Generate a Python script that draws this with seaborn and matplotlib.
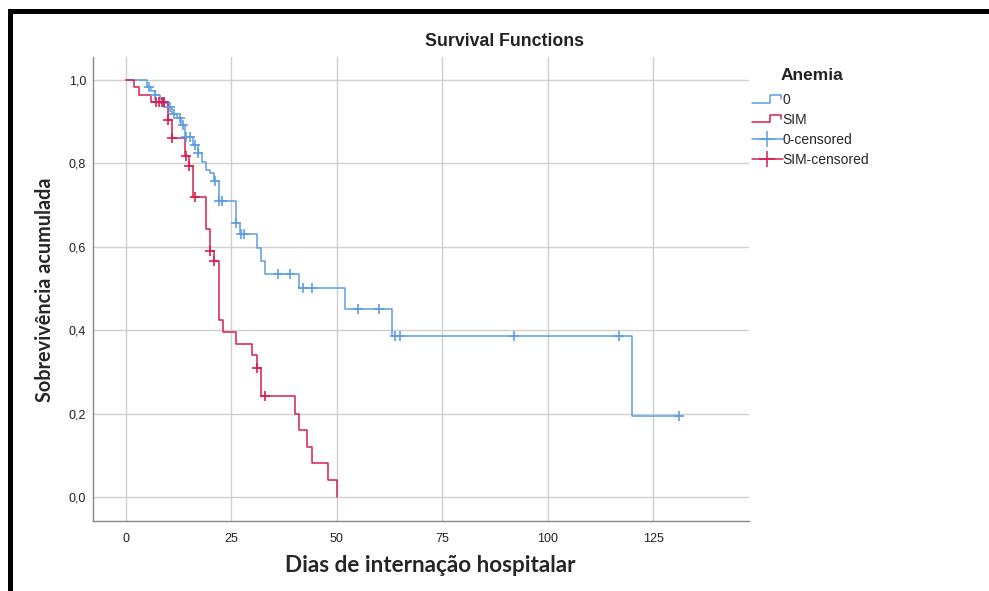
import numpy as np
import pandas as pd
import matplotlib
matplotlib.use("Agg")
import matplotlib.pyplot as plt
import seaborn as sns
from matplotlib.legend_handler import HandlerBase
from matplotlib.lines import Line2D
from matplotlib.patches import Rectangle

# ---------------- data ----------------
groups = ["0", "SIM"]

# group "0": step points (time, cumulative survival)
t_0 = [0, 5, 6, 7, 8, 9, 10, 11, 12, 13, 14, 16, 17, 18, 19, 20, 21, 22, 26, 27,
       31, 32, 33, 41, 52, 63, 120, 131]
s_0 = [1.0, 0.982, 0.973, 0.964, 0.955, 0.945, 0.936, 0.918, 0.909, 0.891, 0.864,
       0.845, 0.825, 0.804, 0.785, 0.776, 0.757, 0.710, 0.657, 0.630, 0.598, 0.566,
       0.535, 0.500, 0.450, 0.386, 0.193, 0.193]
# group "0": censored observations
ct_0 = [5.5, 7, 9, 10.5, 11.5, 12.8, 13.5, 14.2, 15.2, 16.4, 17.1, 21.2, 22.1, 22.8,
        26.2, 27.3, 28, 36, 39, 42, 44, 55, 60, 63.8, 65, 92, 117, 131]
cs_0 = [0.982, 0.964, 0.945, 0.936, 0.918, 0.909, 0.891, 0.864, 0.864, 0.845, 0.825,
        0.757, 0.710, 0.710, 0.657, 0.630, 0.630, 0.535, 0.535, 0.500, 0.500, 0.450,
        0.450, 0.386, 0.386, 0.386, 0.386, 0.193]

# group "SIM"
t_sim = [0, 2, 3, 6, 10, 11, 14, 15, 16, 19, 20, 21, 22, 23, 26, 30, 31, 32, 40,
         41, 43, 44, 48, 50]
s_sim = [1.0, 0.982, 0.965, 0.946, 0.904, 0.860, 0.817, 0.794, 0.720, 0.642, 0.590,
         0.566, 0.424, 0.395, 0.367, 0.340, 0.310, 0.242, 0.200, 0.161, 0.121, 0.081,
         0.041, 0.0]
ct_sim = [7.2, 7.9, 8.5, 9.1, 10, 11, 14.3, 15, 16.4, 20, 21, 31, 33]
cs_sim = [0.946, 0.946, 0.946, 0.946, 0.904, 0.860, 0.817, 0.794, 0.720, 0.590,
          0.566, 0.310, 0.242]

x_ticks = [0, 25, 50, 75, 100, 125]
y_ticks = [0.0, 0.2, 0.4, 0.6, 0.8, 1.0]
y_tick_labels = ["0,0", "0,2", "0,4", "0,6", "0,8", "1,0"]

colors = {"0": "#5E9DE6", "SIM": "#D81E4E"}

steps = {"0": (t_0, s_0), "SIM": (t_sim, s_sim)}
cens = {"0": (ct_0, cs_0), "SIM": (ct_sim, cs_sim)}

# ---------------- figure ----------------
sns.set_style("white")
plt.rcParams["font.family"] = ["Liberation Sans", "DejaVu Sans"]

W, H = 989, 591
fig = plt.figure(figsize=(W / 100, H / 100), dpi=100)
ax = fig.add_axes([93 / W, 1 - 521 / H, (749 - 93) / W, (521 - 57) / H])

for g in groups:
    t, s = steps[g]
    df = pd.DataFrame({"t": t, "s": s})
    sns.lineplot(data=df, x="t", y="s", drawstyle="steps-post", color=colors[g],
                 lw=1.1, estimator=None, sort=False, ax=ax, legend=False, zorder=3)
for g in groups:
    ct, cs = cens[g]
    dfc = pd.DataFrame({"t": ct, "s": cs})
    sns.scatterplot(data=dfc, x="t", y="s", marker="+", s=50, color=colors[g],
                    linewidth=1.2, ax=ax, legend=False, zorder=4)

ax.set_xlim(-7.8, 147.7)
ax.set_ylim(-0.0576, 1.055)
ax.set_xticks(x_ticks)
ax.set_xticklabels([str(v) for v in x_ticks])
ax.set_yticks(y_ticks)
ax.set_yticklabels(y_tick_labels)
ax.grid(True, color="#CFCFCF", lw=1.0)
ax.set_axisbelow(True)
for side in ["top", "right"]:
    ax.spines[side].set_visible(False)
for side in ["left", "bottom"]:
    ax.spines[side].set_color("#888888")
    ax.spines[side].set_linewidth(1.0)
ax.tick_params(axis="both", length=0, labelsize=9, colors="#222222")
ax.tick_params(axis="x", pad=9)
ax.tick_params(axis="y", pad=5)
ax.set_xlabel("")
ax.set_ylabel("")

# titles / labels
fig.text(505 / W, 1 - 42 / H, "Survival Functions", ha="center", va="center",
         fontsize=12.8, fontweight="bold", color="#222222")
fig.text(45 / W, 1 - 290 / H, "Sobrevivência acumulada", ha="center", va="center",
         rotation=90, fontsize=14.3, fontweight="bold", family=["Lato", "DejaVu Sans"])
fig.text(430 / W, 1 - 565 / H, "Dias de internação hospitalar", ha="center",
         va="center", fontsize=16.2, fontweight="bold", family=["Lato", "DejaVu Sans"])

# legend
class StepHandler(HandlerBase):
    def create_artists(self, legend, orig_handle, xdescent, ydescent, width,
                       height, fontsize, trans):
        x0, y0 = -xdescent, -ydescent
        xs = [x0, x0 + 0.6 * width, x0 + 0.6 * width, x0 + 0.95 * width, x0 + 0.95 * width]
        ys = [y0 + 0.15 * height, y0 + 0.15 * height, y0 + 0.95 * height,
              y0 + 0.95 * height, y0 + 0.5 * height]
        ln = Line2D(xs, ys, color=orig_handle.get_color(), lw=1.1, transform=trans)
        return [ln]

h_step0 = Line2D([], [], color=colors["0"])
h_stepS = Line2D([], [], color=colors["SIM"])
h_c0 = Line2D([], [], color=colors["0"], marker="+", markersize=11, markeredgewidth=1.1, lw=1.1)
h_cS = Line2D([], [], color=colors["SIM"], marker="+", markersize=11, markeredgewidth=1.1, lw=1.1)

fig.text(781 / W, 1 - 75 / H, "Anemia", ha="left", va="center", fontsize=12.5,
         fontweight="bold", color="#222222")
leg = fig.legend([h_step0, h_stepS, h_c0, h_cS],
                 ["0", "SIM", "0-censored", "SIM-censored"],
                 handler_map={h_step0: StepHandler(), h_stepS: StepHandler()},
                 loc="upper left", bbox_to_anchor=(752 / W, 1 - 93 / H),
                 frameon=False, fontsize=10, handlelength=2.2, handletextpad=0.0,
                 labelspacing=0.42, borderpad=0, borderaxespad=0)

# black frame lines (top and left)
fig.add_artist(Rectangle((8 / W, 1 - 14 / H), 1 - 8 / W, 5 / H,
                         transform=fig.transFigure, color="black", lw=0))
fig.add_artist(Rectangle((8 / W, 0), 5 / W, 1 - 9 / H,
                         transform=fig.transFigure, color="black", lw=0))

fig.savefig("out.png", dpi=100)
